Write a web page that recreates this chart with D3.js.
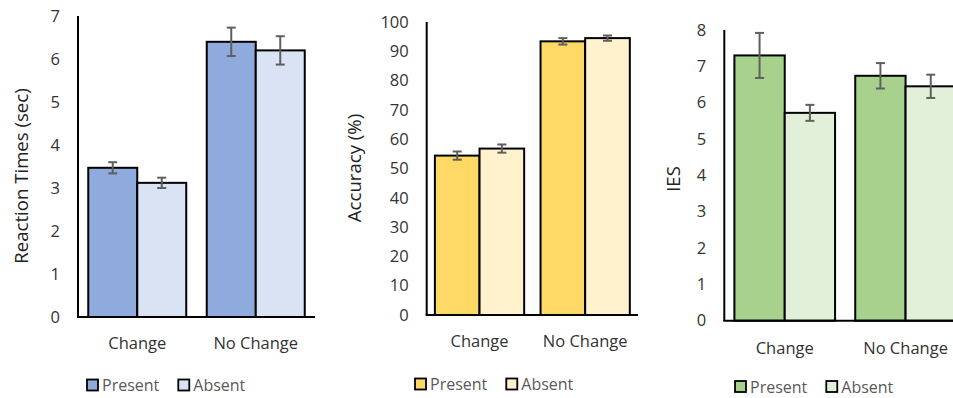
<!DOCTYPE html>
<html>
<head>
<meta charset="utf-8">
<script src="https://cdn.jsdelivr.net/npm/d3@7"></script>
<style>
  html, body { margin: 0; padding: 0; background: #fff; }
  svg { display: block; font-family: "Open Sans", "Noto Sans", sans-serif; }
</style>
</head>
<body>
<svg id="chart" width="953" height="398"></svg>
<script>
// Conditions and series shared by all three panels
const categories = ["Change", "No Change"];
const seriesNames = ["Present", "Absent"];

// Reaction times (sec)
const rtPresent = [3.47, 6.40];
const rtAbsent = [3.12, 6.20];
const rtPresentErr = [0.13, 0.33];
const rtAbsentErr = [0.12, 0.33];
const rtTicks = [0, 1, 2, 3, 4, 5, 6, 7];

// Accuracy (%)
const accPresent = [54.4, 93.4];
const accAbsent = [56.8, 94.5];
const accPresentErr = [1.4, 1.1];
const accAbsentErr = [1.4, 0.9];
const accTicks = [0, 10, 20, 30, 40, 50, 60, 70, 80, 90, 100];

// Inverse efficiency score
const iesPresent = [7.30, 6.74];
const iesAbsent = [5.72, 6.45];
const iesPresentErr = [0.62, 0.35];
const iesAbsentErr = [0.22, 0.32];
const iesTicks = [0, 1, 2, 3, 4, 5, 6, 7, 8];

const svg = d3.select("#chart");

const panels = [
  {
    title: "Reaction Times (sec)", values: [rtPresent, rtAbsent], errors: [rtPresentErr, rtAbsentErr],
    ticks: rtTicks, colors: ["#8FAADC", "#DAE3F3"],
    x0: 78, x1: 315, yBottom: 317, yTop: 16, pad: 0.173,
    titleX: 20, titleY: 176, catY: 342, legendX: 86, legendY: 385
  },
  {
    title: "Accuracy (%)", values: [accPresent, accAbsent], errors: [accPresentErr, accAbsentErr],
    ticks: accTicks, colors: ["#FFD966", "#FFF2CC"],
    x0: 426.7, x1: 638, yBottom: 315, yTop: 22, pad: 0.155,
    titleX: 353, titleY: 168, catY: 340, legendX: 414, legendY: 384
  },
  {
    title: "IES", values: [iesPresent, iesAbsent], errors: [iesPresentErr, iesAbsentErr],
    ticks: iesTicks, colors: ["#A9D18E", "#E2F0D9"],
    x0: 724.3, x1: 966, yBottom: 320.7, yTop: 30, pad: 0.167,
    titleX: 672, titleY: 179, catY: 347, legendX: 734, legendY: 386.5
  }
];

panels.forEach(p => {
  const g = svg.append("g");
  const ticks = p.ticks;

  const y = d3.scaleLinear()
    .domain([ticks[0], ticks[ticks.length - 1]])
    .range([p.yBottom, p.yTop]);

  const x = d3.scaleBand()
    .domain(categories)
    .range([p.x0, p.x1])
    .paddingInner(p.pad)
    .paddingOuter(p.pad / 2);

  const xs = d3.scaleBand()
    .domain(seriesNames)
    .range([0, x.bandwidth()]);

  // Value labels on the left, no tick marks
  const yAxis = d3.axisLeft(y).tickValues(ticks).tickSize(0).tickPadding(18).tickFormat(d3.format("d"));
  const ya = g.append("g").attr("transform", `translate(${p.x0},0)`).call(yAxis);
  ya.select(".domain").remove();
  ya.selectAll("text").attr("font-size", 16.5).attr("fill", "#333").attr("font-family", "Open Sans");

  // Axis title
  g.append("text")
    .attr("transform", `translate(${p.titleX},${p.titleY}) rotate(-90)`)
    .attr("text-anchor", "middle")
    .attr("dominant-baseline", "central")
    .attr("font-size", 18.6)
    .attr("fill", "#222")
    .text(p.title);

  // Bars
  const rows = [];
  categories.forEach((c, ci) => {
    seriesNames.forEach((s, si) => {
      rows.push({ c, s, si, v: p.values[si][ci], e: p.errors[si][ci] });
    });
  });

  g.append("g").selectAll("rect").data(rows).join("rect")
    .attr("x", d => x(d.c) + xs(d.s))
    .attr("y", d => y(d.v))
    .attr("width", xs.bandwidth())
    .attr("height", d => y(0) - y(d.v))
    .attr("fill", d => p.colors[d.si])
    .attr("stroke", "#000")
    .attr("stroke-width", 2);

  // Error bars
  const eb = g.append("g").attr("stroke", "#5f5f5f").attr("stroke-width", 2);
  rows.forEach(d => {
    const cx = x(d.c) + xs(d.s) + xs.bandwidth() / 2;
    eb.append("line").attr("x1", cx).attr("x2", cx).attr("y1", y(d.v + d.e)).attr("y2", y(d.v - d.e));
    eb.append("line").attr("x1", cx - 4.5).attr("x2", cx + 4.5).attr("y1", y(d.v + d.e)).attr("y2", y(d.v + d.e));
    eb.append("line").attr("x1", cx - 4.5).attr("x2", cx + 4.5).attr("y1", y(d.v - d.e)).attr("y2", y(d.v - d.e));
  });

  // Axis lines
  g.append("line").attr("x1", p.x0).attr("x2", p.x0).attr("y1", y.range()[1]).attr("y2", p.yBottom)
    .attr("stroke", "#000").attr("stroke-width", 2);
  g.append("line").attr("x1", p.x0 - 1).attr("x2", p.x1).attr("y1", p.yBottom).attr("y2", p.yBottom)
    .attr("stroke", "#000").attr("stroke-width", 2);

  // Category labels
  g.append("g").selectAll("text").data(categories).join("text")
    .attr("x", d => x(d) + x.bandwidth() / 2)
    .attr("y", p.catY)
    .attr("text-anchor", "middle")
    .attr("dominant-baseline", "central")
    .attr("font-size", 16.5)
    .attr("fill", "#333")
    .text(d => d);

  // Legend
  const lg = g.append("g").attr("transform", `translate(${p.legendX},${p.legendY})`);
  let lx = 0;
  seriesNames.forEach((s, si) => {
    lg.append("rect").attr("x", lx + 1).attr("y", -5.5).attr("width", 11).attr("height", 11)
      .attr("fill", p.colors[si]).attr("stroke", "#000").attr("stroke-width", 1.8);
    const t = lg.append("text").attr("x", lx + 16).attr("y", 0)
      .attr("dominant-baseline", "central")
      .attr("font-size", 16).attr("fill", "#595959").text(s);
    lx += 16 + t.node().getComputedTextLength() + 18;
  });
});
</script>
</body>
</html>
